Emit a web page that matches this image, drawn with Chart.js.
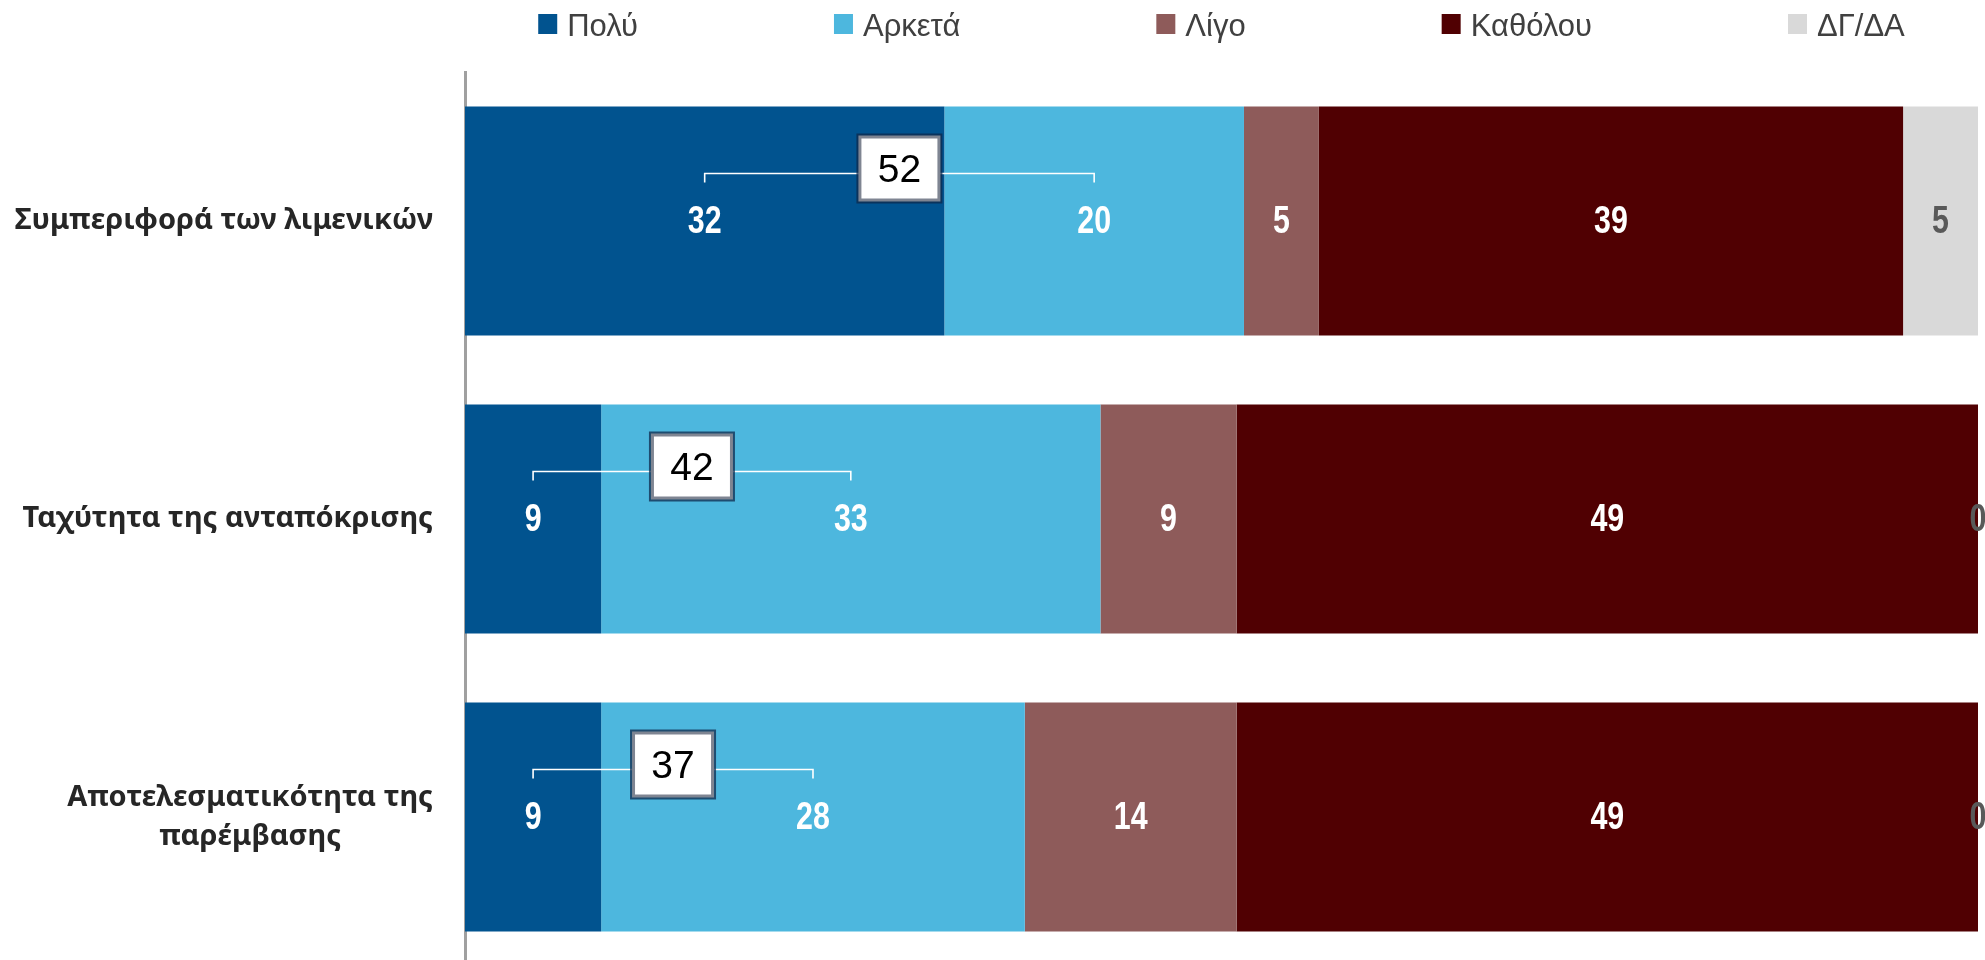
<!DOCTYPE html>
<html>
<head>
<meta charset="utf-8">
<script src="https://cdn.jsdelivr.net/npm/chart.js@4.4.1/dist/chart.umd.min.js"></script>
<style>
  html, body { margin: 0; padding: 0; background: #fff; overflow: hidden; }
  canvas { display: block; }
</style>
</head>
<body>
<canvas id="grafico" width="1985" height="966"></canvas>
<script>
const categorias = [
  ['Συμπεριφορά των λιμενικών'],
  ['Ταχύτητα της ανταπόκρισης'],
  ['Αποτελεσματικότητα της', 'παρέμβασης']
];
const nomes = ['Πολύ', 'Αρκετά', 'Λίγο', 'Καθόλου', 'ΔΓ/ΔΑ'];
const polu = [32, 9, 9];
const arketa = [20, 33, 28];
const ligo = [5, 9, 14];
const katholou = [39, 49, 49];
const dgda = [5, 0, 0];

const valores = [polu, arketa, ligo, katholou, dgda];
const cores = ['#01538f', '#4db7de', '#8e5b5a', '#500002', '#d9d9d9'];
const coresTexto = ['#ffffff', '#ffffff', '#ffffff', '#ffffff', '#595959'];

// 100% stacked: each row is scaled to its own total
const totais = categorias.map((c, i) => valores.reduce((s, v) => s + v[i], 0));

const datasets = valores.map((v, d) => ({
  label: nomes[d],
  data: v.map((x, i) => x / totais[i] * 100),
  valores: v,
  backgroundColor: cores[d],
  borderWidth: 0,
  barPercentage: 0.768,
  categoryPercentage: 1
}));

function textoEstreito(ctx, txt, x, y) {
  ctx.save();
  ctx.translate(x, y);
  ctx.scale(0.8, 1);
  ctx.fillText(txt, 0, 0);
  ctx.restore();
}

const rotulos = {
  id: 'rotulos',
  afterDatasetsDraw(chart) {
    const ctx = chart.ctx;
    ctx.save();
    ctx.textAlign = 'center';
    ctx.textBaseline = 'middle';
    chart.data.datasets.forEach((ds, d) => {
      chart.getDatasetMeta(d).data.forEach((bar, i) => {
        const p = bar.getCenterPoint();
        ctx.font = 'bold 38px "Liberation Sans", Arial, sans-serif';
        ctx.fillStyle = coresTexto[d];
        textoEstreito(ctx, String(ds.valores[i]), p.x, p.y + 2);
      });
    });

    // bracket + box with Πολύ + Αρκετά
    const m0 = chart.getDatasetMeta(0).data;
    const m1 = chart.getDatasetMeta(1).data;
    m0.forEach((bar, i) => {
      const x1 = bar.getCenterPoint().x;
      const x2 = m1[i].getCenterPoint().x;
      const y = bar.y - 47.5;
      ctx.strokeStyle = '#ffffff';
      ctx.lineWidth = 1.6;
      ctx.beginPath();
      ctx.moveTo(x1, y + 9);
      ctx.lineTo(x1, y);
      ctx.lineTo(x2, y);
      ctx.lineTo(x2, y + 9);
      ctx.stroke();

      const cx = (x1 + x2) / 2, cy = y - 5;
      const w = 86, h = 70;
      ctx.fillStyle = 'rgba(15, 40, 75, 0.75)';
      ctx.fillRect(cx - w / 2, cy - h / 2, w, h);
      ctx.fillStyle = '#7f8592';
      ctx.fillRect(cx - w / 2 + 2, cy - h / 2 + 2, w - 4, h - 4);
      ctx.fillStyle = '#ffffff';
      ctx.fillRect(cx - w / 2 + 5, cy - h / 2 + 5, w - 10, h - 10);
      ctx.fillStyle = '#000000';
      ctx.font = '39px "Liberation Sans", Arial, sans-serif';
      ctx.fillText(String(polu[i] + arketa[i]), cx, cy + 3);
    });
    ctx.restore();
  },
  afterDraw(chart) {
    const ctx = chart.ctx;
    const area = chart.chartArea;
    ctx.save();

    // category labels
    const escalaY = chart.scales.y;
    ctx.font = 'bold 29px "Noto Sans", "DejaVu Sans", sans-serif';
    ctx.fillStyle = '#262626';
    ctx.textAlign = 'center';
    ctx.textBaseline = 'middle';
    categorias.forEach((linhas, i) => {
      const y = escalaY.getPixelForTick(i);
      const larg = Math.max(...linhas.map(l => ctx.measureText(l).width));
      const cx = 433 - larg / 2;
      const lh = 39;
      linhas.forEach((l, k) => {
        ctx.fillText(l, cx, y + (k - (linhas.length - 1) / 2) * lh);
      });
    });

    // legend
    ctx.font = '31px "Liberation Sans", Arial, sans-serif';
    ctx.textAlign = 'left';
    const caixa = 19, esp = 10, gap = 196;
    const largs = nomes.map(n => caixa + esp + ctx.measureText(n).width);
    const total = largs.reduce((a, b) => a + b, 0) + gap * (nomes.length - 1);
    let x = (area.left + area.right) / 2 - total / 2;
    nomes.forEach((n, d) => {
      ctx.fillStyle = cores[d];
      ctx.fillRect(x, 14, caixa, 20);
      ctx.fillStyle = '#404040';
      ctx.fillText(n, x + caixa + esp, 27);
      x += largs[d] + gap;
    });
    ctx.restore();
  }
};

new Chart(document.getElementById('grafico'), {
  type: 'bar',
  data: {
    labels: categorias,
    datasets: datasets
  },
  options: {
    indexAxis: 'y',
    responsive: false,
    animation: false,
    devicePixelRatio: 1,
    layout: { padding: { top: 72, right: 7, bottom: 0, left: 0 } },
    plugins: {
      legend: { display: false },
      tooltip: { enabled: false }
    },
    scales: {
      x: {
        stacked: true,
        min: 0,
        max: 100,
        display: false
      },
      y: {
        stacked: true,
        grid: { display: false },
        ticks: { display: false },
        border: { display: true, color: '#a0a0a0', width: 3 },
        afterFit: s => { s.width = 465; }
      }
    }
  },
  plugins: [rotulos]
});
</script>
</body>
</html>
